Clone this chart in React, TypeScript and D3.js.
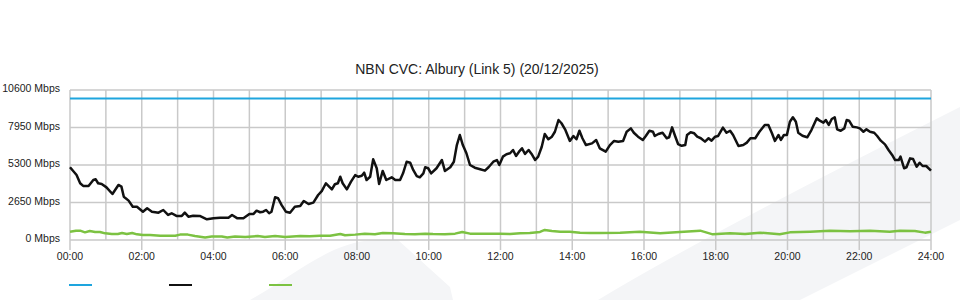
import React from "react";
import * as d3 from "d3";

const chartTitle = "NBN CVC: Albury (Link 5) (20/12/2025)";
const yTickValues = [0, 2650, 5300, 7950, 10600];
const xTickHours = [0, 2, 4, 6, 8, 10, 12, 14, 16, 18, 20, 22, 24];
const capacityMbps = 10000;

const blackMinutes = [
  0, 11, 17, 22, 31, 39, 43, 47, 53, 61, 71, 81, 86, 90, 98, 105, 112, 122, 129, 137, 148, 156, 164, 170, 178, 187, 192, 198, 206, 217, 229, 240, 251, 265, 271, 280, 290, 300,
  307, 312, 318, 323, 328, 333, 337, 343, 348, 354, 361, 368, 376, 385, 391, 399, 407, 415, 421, 428, 438, 443, 448, 452, 456, 463, 470, 477, 482, 488, 492, 496, 502, 507, 513, 517, 523, 529, 538, 544, 552, 557, 563, 569, 574, 580, 585, 591, 594, 599, 604, 613, 622, 627, 636, 642, 647, 652, 657, 663, 669, 677,
  686, 694, 700, 708, 714, 718, 724, 730, 736, 741, 746, 751, 756, 761, 767, 772, 778, 783, 789, 794, 800, 806, 811, 817, 822, 828, 836, 842, 847, 852, 857, 863, 873, 880, 886, 896, 903, 910, 917, 925, 931, 938, 943, 950, 958, 963, 969, 975, 978, 984, 991, 998, 1002, 1007, 1012, 1017, 1023, 1029, 1032, 1038, 1044, 1049, 1055, 1062, 1068, 1073, 1079, 1084,
  1092, 1098, 1104, 1109, 1118, 1126, 1132, 1138, 1146, 1153, 1162, 1168, 1174, 1179, 1185, 1189, 1194, 1199, 1204, 1209, 1214, 1218, 1225, 1233, 1240, 1249, 1254, 1260, 1264, 1269, 1274, 1279, 1283, 1289, 1295, 1299, 1303, 1309, 1316, 1321, 1327, 1332, 1338, 1345, 1350, 1356, 1363, 1369, 1375, 1380, 1386, 1389, 1395, 1399, 1405, 1410, 1416, 1421, 1426, 1432, 1440,
];
const blackMbps = [
  5140, 4590, 4010, 3820, 3820, 4240, 4290, 4010, 3960, 3720, 3250, 3890, 3770, 3060, 2780, 2350, 2350, 2000, 2240, 2000, 1930, 2120, 1770, 1890, 1700, 1700, 1930, 1650, 1720, 1700, 1460, 1530, 1580, 1580, 1770, 1530, 1530, 1840,
  1840, 2070, 1960, 2000, 2120, 1890, 2000, 3020, 2950, 2470, 2000, 1930, 2350, 2400, 2760, 2540, 2640, 3180, 3460, 4010, 3580, 3940, 4010, 4470, 4010, 3580, 4120, 4590, 4470, 4540, 4760, 4240, 4470, 5700, 5070, 3960, 4880, 4240, 4430, 4240, 4240, 4710, 5530, 5460, 4950, 4520, 4430, 4710, 5140, 5070, 4710, 5070, 5650, 4880, 5140, 5530, 6710, 7420, 6710, 6130, 5300, 5110,
  5000, 4900, 5140, 5530, 5650, 5300, 5890, 6060, 6130, 6360, 5940, 6240, 6480, 6080, 6360, 6080, 5650, 5890, 6590, 7490, 7120, 7300, 7650, 8480, 8250, 7820, 7000, 7350, 7120, 7720, 7190, 6710, 6830, 7070, 6480, 6240, 6710, 7000, 6950, 7000, 7650, 7890, 7580, 7300, 7070, 7350, 7720, 7650, 7350, 7490, 7580, 7190, 7260, 7960, 7350, 6780, 6660, 6710, 7420, 7610, 7540, 7300, 7190, 6950, 7190, 7020, 7300, 7350,
  7940, 7580, 7720, 7420, 6640, 6710, 6880, 7190, 7190, 7650, 8130, 8130, 7540, 7000, 7420, 7070, 7420, 7420, 8360, 8670, 8360, 7580, 7370, 7260, 7770, 8600, 8430, 8290, 8480, 8130, 8550, 8670, 7820, 7720, 7890, 8480, 8430, 8010, 7960, 7890, 7650, 7820, 7650, 7580, 7350, 7020, 6760, 6360, 6010, 5650, 5650, 5890, 5070, 5140, 5770, 5720, 5180, 5460, 5230, 5230, 4900,
];

const greenMinutes = [
  0, 10, 17, 25, 33, 42, 50, 59, 70, 80, 87, 95, 104, 112, 122, 134, 151, 176, 184, 197, 209, 226, 237, 254, 263, 276, 293, 314, 326, 343, 360, 385, 401, 418, 435, 452, 460, 477, 493, 510, 523, 540, 560, 577, 594, 607, 627, 644, 656, 669, 694, 719, 736, 753, 769, 786, 794, 806, 820, 836, 853, 870, 886, 920, 953, 987, 1020, 1054, 1075, 1104, 1129, 1154, 1187, 1204, 1238, 1271, 1305, 1338, 1371, 1388, 1413, 1430, 1440,
];
const greenMbps = [
  590, 660, 660, 540, 640, 570, 570, 470, 420, 420, 490, 420, 490, 400, 350, 350, 300, 300, 380, 380, 280, 170, 240, 240, 170, 240, 210, 280, 210, 280, 210, 280, 260, 300, 300, 420, 330, 380, 450, 400, 490, 470, 420, 400, 450, 420, 400, 450, 570, 450, 450, 450, 420, 470, 490, 570, 710, 640, 590, 590, 520, 490, 500, 520, 590, 470, 570, 660, 400, 470, 420, 520, 400, 540, 590, 660, 610, 660, 590, 660, 640, 520, 590,
];

const legendColors = ["#1ea5de", "#111111", "#7cc242"];

const W = 960;
const H = 300;
const left = 70;
const right = 931;
const top = 90;
const bottom = 240;
const font = "'Liberation Sans', Arial, Helvetica, sans-serif";

export default function App() {
  const x = d3.scaleLinear().domain([0, 1440]).range([left, right]);
  const y = d3.scaleLinear().domain([0, 10600]).range([bottom, top]);

  const blackPts: [number, number][] = blackMinutes.map((m, i) => [m, blackMbps[i]]);
  const greenPts: [number, number][] = greenMinutes.map((m, i) => [m, greenMbps[i]]);
  const line = d3
    .line<[number, number]>()
    .x((d) => x(d[0]))
    .y((d) => y(d[1]));

  const hourGrid = d3.range(0, 25);
  const grid = "#c9c9c9";

  return (
    <svg
      width={W}
      height={H}
      style={{ position: "absolute", left: 0, top: 0, background: "#fff" }}
      fontFamily={font}
    >
      {/* watermark */}
      <path d="M250,300 C300,272 330,242 375,240 L398,240 L450,287 L453,300 Z" fill="#f4f5f7" />
      <path d="M598,300 Q700,238 960,107 L960,220 L800,300 Z" fill="#f4f5f7" />

      <text x={477} y={74} textAnchor="middle" fontSize={14} fill="#222">
        {chartTitle}
      </text>

      {/* grid */}
      {hourGrid.map((h) => (
        <line key={"v" + h} x1={x(h * 60)} x2={x(h * 60)} y1={top} y2={bottom} stroke={grid} strokeWidth={1.5} />
      ))}
      {yTickValues.map((v) => (
        <line key={"h" + v} x1={left} x2={right} y1={y(v)} y2={y(v)} stroke={grid} strokeWidth={1.5} />
      ))}
      {xTickHours.map((h) => (
        <line key={"t" + h} x1={x(h * 60)} x2={x(h * 60)} y1={bottom} y2={bottom + 10} stroke={grid} strokeWidth={1.5} />
      ))}

      {/* y labels */}
      {yTickValues.map((v) => (
        <text key={"yl" + v} x={60} y={y(v) + 2} textAnchor="end" fontSize={10.5} fill="#222">
          {v + " Mbps"}
        </text>
      ))}
      {/* x labels */}
      {xTickHours.map((h) => (
        <text key={"xl" + h} x={x(h * 60)} y={260} textAnchor="middle" fontSize={10.5} fill="#222">
          {String(h).padStart(2, "0") + ":00"}
        </text>
      ))}

      {/* series */}
      <line x1={x(0)} x2={x(1440)} y1={y(capacityMbps)} y2={y(capacityMbps)} stroke={legendColors[0]} strokeWidth={2} />
      <path d={line(greenPts) || ""} fill="none" stroke={legendColors[2]} strokeWidth={2.5} strokeLinejoin="round" />
      <path d={line(blackPts) || ""} fill="none" stroke={legendColors[1]} strokeWidth={2.5} strokeLinejoin="round" />

      {/* legend */}
      {legendColors.map((c, i) => (
        <line key={"lg" + i} x1={69 + i * 100} x2={92 + i * 100} y1={285} y2={285} stroke={c} strokeWidth={2} />
      ))}
    </svg>
  );
}
